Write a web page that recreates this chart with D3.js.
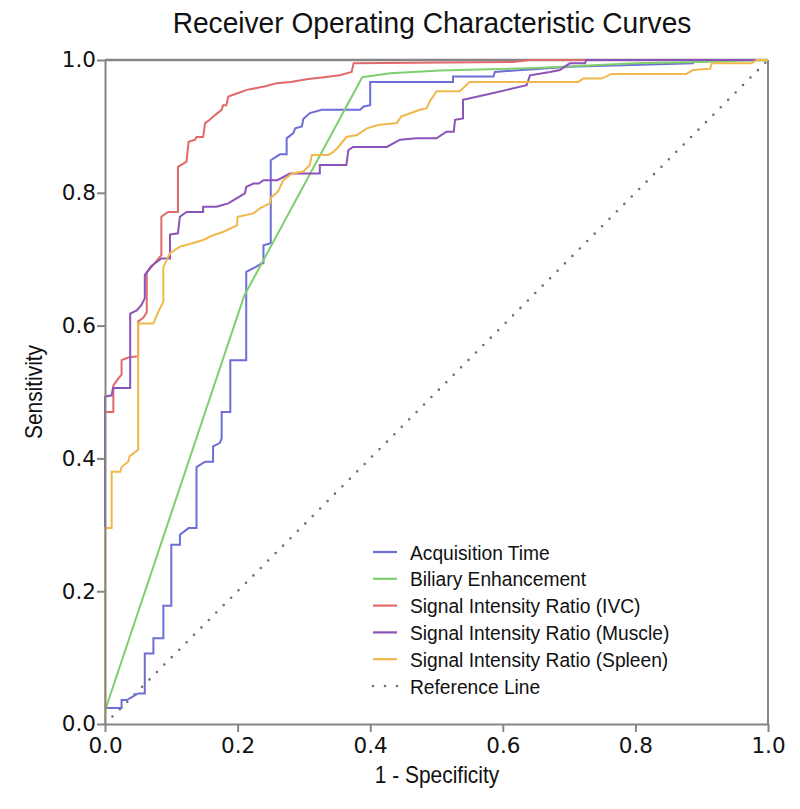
<!DOCTYPE html>
<html><head><meta charset="utf-8">
<script src="https://cdn.jsdelivr.net/npm/d3@7"></script>
<style>body{margin:0;background:#fff}</style>
</head><body>
<svg id="chart" width="800" height="809"></svg>
<script>
const title = "Receiver Operating Characteristic Curves";
const xLabel = "1 - Specificity";
const yLabel = "Sensitivity";
const tickValues = [0, 0.2, 0.4, 0.6, 0.8, 1.0];
const seriesNames = ["Acquisition Time","Biliary Enhancement","Signal Intensity Ratio (IVC)","Signal Intensity Ratio (Muscle)","Signal Intensity Ratio (Spleen)"];
const referenceName = "Reference Line";

const acquisitionTime = [[0,0],[0,0.024],[0.025,0.024],[0.025,0.036],[0.033,0.036],[0.04,0.04],[0.05,0.046],[0.06,0.046],[0.06,0.106],[0.073,0.106],[0.073,0.129],[0.088,0.129],[0.088,0.178],[0.1,0.178],[0.1,0.27],[0.113,0.27],[0.113,0.285],[0.126,0.295],[0.138,0.295],[0.138,0.387],[0.151,0.395],[0.163,0.395],[0.163,0.418],[0.173,0.423],[0.176,0.43],[0.176,0.47],[0.189,0.47],[0.189,0.548],[0.213,0.548],[0.213,0.681],[0.229,0.689],[0.236,0.694],[0.239,0.694],[0.239,0.721],[0.25,0.724],[0.25,0.849],[0.264,0.858],[0.274,0.858],[0.274,0.882],[0.284,0.89],[0.287,0.897],[0.297,0.9],[0.299,0.911],[0.309,0.92],[0.327,0.925],[0.385,0.925],[0.39,0.93],[0.4,0.932],[0.4,0.967],[0.525,0.967],[0.525,0.975],[0.586,0.975],[0.588,0.982],[0.7,0.99],[0.887,0.995],[0.887,1],[1,1]];
const biliaryEnhancement = [[0,0],[0,0.02],[0.21,0.645],[0.388,0.974],[0.43,0.98],[0.505,0.984],[0.65,0.988],[0.8,0.995],[0.9,0.997],[1,1]];
const sirIVC = [[0,0],[0,0.47],[0.0126,0.47],[0.0126,0.51],[0.02,0.52],[0.025,0.526],[0.025,0.548],[0.035,0.552],[0.05,0.554],[0.05,0.606],[0.058,0.612],[0.063,0.62],[0.063,0.68],[0.068,0.686],[0.075,0.694],[0.085,0.706],[0.085,0.764],[0.095,0.771],[0.11,0.771],[0.11,0.839],[0.123,0.847],[0.126,0.877],[0.136,0.88],[0.138,0.884],[0.148,0.884],[0.151,0.905],[0.158,0.91],[0.166,0.917],[0.176,0.925],[0.178,0.932],[0.183,0.932],[0.186,0.945],[0.2,0.95],[0.214,0.955],[0.24,0.96],[0.259,0.965],[0.28,0.967],[0.304,0.971],[0.33,0.974],[0.354,0.977],[0.372,0.982],[0.375,0.995],[0.616,0.997],[0.64,1],[1,1]];
const sirMuscle = [[0,0],[0,0.493],[0.01,0.495],[0.012,0.506],[0.038,0.506],[0.038,0.618],[0.048,0.623],[0.055,0.631],[0.06,0.641],[0.06,0.676],[0.07,0.69],[0.085,0.701],[0.098,0.701],[0.098,0.737],[0.11,0.739],[0.113,0.764],[0.123,0.771],[0.148,0.771],[0.148,0.779],[0.168,0.779],[0.186,0.784],[0.199,0.792],[0.211,0.799],[0.213,0.809],[0.224,0.814],[0.232,0.814],[0.239,0.819],[0.26,0.819],[0.279,0.829],[0.324,0.829],[0.324,0.842],[0.364,0.842],[0.367,0.864],[0.374,0.869],[0.425,0.869],[0.445,0.88],[0.47,0.882],[0.5,0.882],[0.515,0.892],[0.526,0.892],[0.528,0.91],[0.54,0.912],[0.54,0.94],[0.576,0.948],[0.606,0.955],[0.636,0.962],[0.641,0.977],[0.671,0.982],[0.686,0.985],[0.701,0.995],[0.724,0.995],[0.726,1],[1,1]];
const sirSpleen = [[0,0],[0,0.295],[0.01,0.295],[0.01,0.38],[0.023,0.38],[0.025,0.387],[0.035,0.395],[0.037,0.403],[0.05,0.413],[0.05,0.603],[0.073,0.603],[0.08,0.62],[0.088,0.636],[0.088,0.688],[0.098,0.709],[0.113,0.719],[0.128,0.723],[0.148,0.729],[0.163,0.736],[0.178,0.741],[0.199,0.751],[0.2,0.764],[0.224,0.769],[0.234,0.777],[0.249,0.784],[0.25,0.792],[0.261,0.802],[0.269,0.819],[0.282,0.829],[0.299,0.832],[0.309,0.842],[0.312,0.857],[0.337,0.857],[0.345,0.862],[0.352,0.869],[0.364,0.884],[0.38,0.887],[0.395,0.897],[0.412,0.902],[0.44,0.905],[0.447,0.915],[0.475,0.925],[0.485,0.927],[0.49,0.938],[0.5,0.953],[0.535,0.953],[0.55,0.967],[0.714,0.967],[0.721,0.972],[0.749,0.972],[0.764,0.979],[0.877,0.979],[0.887,0.985],[0.913,0.987],[0.915,0.995],[0.975,0.995],[0.983,1],[1,1]];
const referenceLine = [[0,0],[1,1]];

const seriesData = [acquisitionTime, biliaryEnhancement, sirIVC, sirMuscle, sirSpleen];
const seriesColors = ["#6e6ed8","#7fcf6e","#e06a6a","#8b52b8","#f0b84a"];

const svg = d3.select("#chart");
const plotLeft = 105, plotRight = 768, plotTop = 60, plotBottom = 724;
const x = d3.scaleLinear().domain([0,1]).range([plotLeft,plotRight]);
const y = d3.scaleLinear().domain([0,1]).range([plotBottom,plotTop]);
const axisColor = "#858585";
const sansFont = "'Liberation Sans', Arial, sans-serif";

svg.append("line").attr("x1",plotLeft).attr("x2",plotRight).attr("y1",plotTop).attr("y2",plotTop).attr("stroke",axisColor).attr("stroke-width",2.5);
svg.append("line").attr("x1",plotRight).attr("x2",plotRight).attr("y1",plotTop).attr("y2",plotBottom).attr("stroke",axisColor).attr("stroke-width",2);

const line = d3.line().x(d=>x(d[0])).y(d=>y(d[1]));
svg.append("path").datum(referenceLine).attr("d",line).attr("fill","none")
  .attr("stroke","#707070").attr("stroke-width",2.6).attr("stroke-linecap","round").attr("stroke-dasharray","0,10.5");

seriesData.forEach((s,i)=>{
  svg.append("path").datum(s).attr("d",line).attr("fill","none")
    .attr("stroke",seriesColors[i]).attr("stroke-width",2).attr("stroke-linejoin","miter");
});

const xAxis = d3.axisBottom(x).tickValues(tickValues).tickFormat(d3.format(".1f")).tickSize(8).tickSizeOuter(0);
const yAxis = d3.axisLeft(y).tickValues(tickValues).tickFormat(d3.format(".1f")).tickSize(8).tickSizeOuter(0);
const gx = svg.append("g").attr("transform",`translate(0,${plotBottom})`).call(xAxis);
const gy = svg.append("g").attr("transform",`translate(${plotLeft},0)`).call(yAxis);
[gx,gy].forEach(g=>{
  g.select(".domain").attr("stroke",axisColor).attr("stroke-width",2);
  g.selectAll(".tick line").attr("stroke",axisColor).attr("stroke-width",2);
  g.selectAll(".tick text").attr("fill","#111").style("font-family","'DejaVu Sans'").style("font-size","21.5px");
});
gx.selectAll(".tick text").attr("dy","0.95em").attr("y",9);
gy.selectAll(".tick text").attr("x",-9);

function label(tx, ty, txt, size, sx, anchor, rot){
  return svg.append("text")
    .attr("transform",`translate(${tx},${ty})${rot?` rotate(${rot})`:""} scale(${sx},1)`)
    .attr("text-anchor",anchor).style("font-family",sansFont).style("font-size",size+"px")
    .attr("fill","#111").text(txt);
}
label(432, 33, title, 29, 0.97, "middle");
label(437, 783, xLabel, 23, 0.91, "middle");
label(42, 392, yLabel, 23, 0.91, "middle", -90);

const legendY0 = 552, legendStep = 26.8;
const legendItems = seriesNames.map((n,i)=>({name:n,color:seriesColors[i],dash:false}))
  .concat([{name:referenceName,color:"#707070",dash:true}]);
legendItems.forEach((it,i)=>{
  const yy = legendY0 + i*legendStep;
  const ln = svg.append("line").attr("x1",373).attr("x2",397).attr("y1",yy).attr("y2",yy)
    .attr("stroke",it.color).attr("stroke-width",2.2);
  if(it.dash){ ln.attr("stroke-linecap","round").attr("stroke-dasharray","0,12").attr("x1",373).attr("x2",398).attr("stroke-width",2.6); }
  label(410, yy + 7.5, it.name, 21, 0.915, "start");
});
</script>
</body></html>
